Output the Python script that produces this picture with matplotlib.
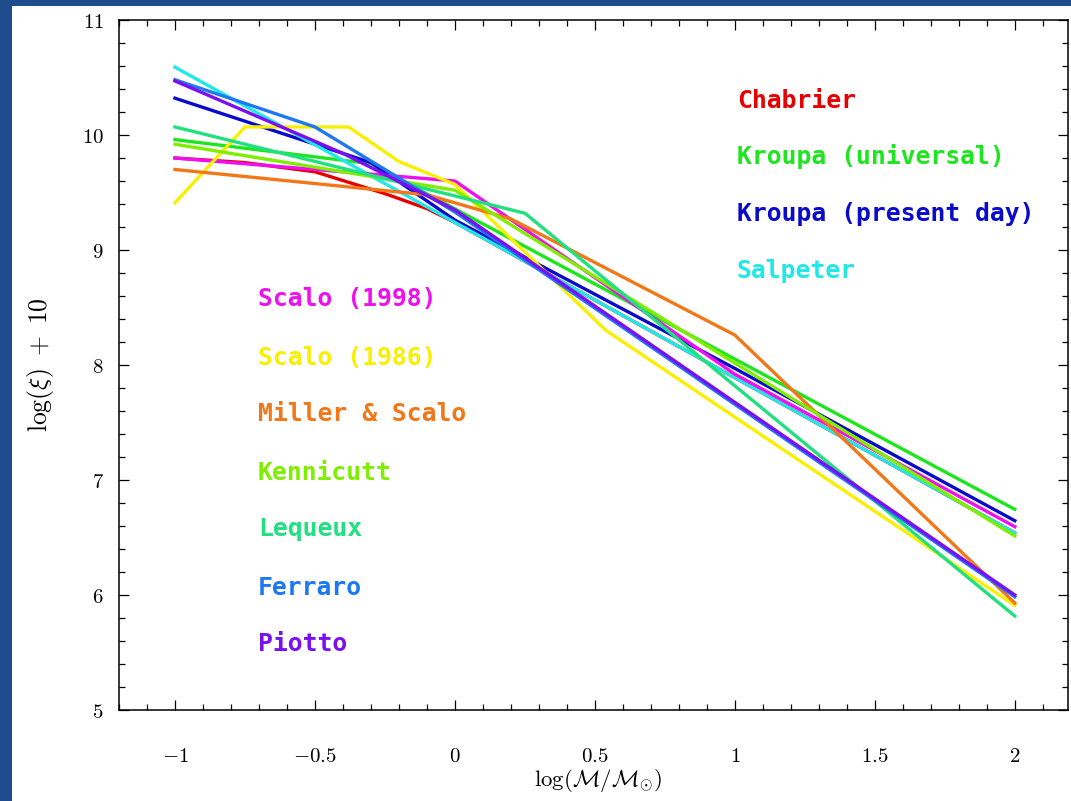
import numpy as np
import matplotlib
matplotlib.use("Agg")
import matplotlib.pyplot as plt
from matplotlib.patches import Rectangle
from matplotlib.ticker import MultipleLocator, FuncFormatter

plt.rcParams['mathtext.fontset'] = 'cm'

# === IMF CURVES: log(M/Msun) vs log(xi) + 10 ===
chabrier_x = [-1.0, -0.75, -0.5, -0.25, -0.1, 0.0, 2.0]
chabrier_y = [9.80, 9.76, 9.68, 9.49, 9.36, 9.24, 6.54]

kroupa_univ_x = [-1.0, -0.3, 2.0]
kroupa_univ_y = [9.96, 9.75, 6.745]

kroupa_pd_x = [-1.0, -0.3, 0.0, 1.0, 2.0]
kroupa_pd_y = [10.32, 9.76, 9.26, 7.97, 6.646]

salpeter_x = [-1.0, 2.0]
salpeter_y = [10.59, 6.54]

scalo98_x = [-1.0, 0.0, 1.0, 2.0]
scalo98_y = [9.80, 9.60, 7.92, 6.594]

scalo86_x = [-1.0, -0.75, -0.38, -0.2, 0.0, 0.54, 2.0]
scalo86_y = [9.41, 10.07, 10.07, 9.77, 9.57, 8.30, 5.91]

miller_x = [-1.0, -0.1, 0.2, 1.0, 2.0]
miller_y = [9.70, 9.48, 9.27, 8.26, 5.93]

kennicutt_x = [-1.0, 0.0, 2.0]
kennicutt_y = [9.92, 9.52, 6.513]

lequeux_x = [-1.0, 0.25, 2.0]
lequeux_y = [10.07, 9.32, 5.817]

ferraro_x = [-1.0, -0.5, 0.0, 2.0]
ferraro_y = [10.48, 10.07, 9.33, 5.985]

piotto_x = [-1.0, -0.4, 0.0, 2.0]
piotto_y = [10.47, 9.84, 9.35, 6.0]

names = ["Chabrier", "Kroupa (universal)", "Kroupa (present day)", "Salpeter",
         "Scalo (1998)", "Scalo (1986)", "Miller & Scalo", "Kennicutt",
         "Lequeux", "Ferraro", "Piotto"]
curves = [(chabrier_x, chabrier_y), (kroupa_univ_x, kroupa_univ_y),
          (kroupa_pd_x, kroupa_pd_y), (salpeter_x, salpeter_y),
          (scalo98_x, scalo98_y), (scalo86_x, scalo86_y),
          (miller_x, miller_y), (kennicutt_x, kennicutt_y),
          (lequeux_x, lequeux_y), (ferraro_x, ferraro_y),
          (piotto_x, piotto_y)]
colors = ["#e60000", "#1ee61e", "#0a0acc", "#20e8e8", "#ee10ee", "#f8f000",
          "#f07818", "#80ee00", "#20e080", "#1e78f0", "#7a10f0"]

# label anchors (data coords): right column, then left column
label_pos = [(1.007, 10.30), (1.007, 9.81), (1.007, 9.31), (1.007, 8.82),
             (-0.704, 8.57), (-0.704, 8.06), (-0.704, 7.57), (-0.704, 7.06),
             (-0.704, 6.57), (-0.704, 6.06), (-0.704, 5.57)]

# === PLOT ===
fig = plt.figure(figsize=(10.71, 8.01), dpi=100)
fig.patch.set_facecolor("#1e4c8c")
# white slide panel behind the axes
fig.patches.append(Rectangle((12 / 1071, 0), 1, 795 / 801, transform=fig.transFigure,
                             facecolor="white", edgecolor="none", zorder=-10))

ax = fig.add_axes([119 / 1071, 91 / 801, 949 / 1071, 690 / 801])
ax.set_facecolor("white")

for (xs, ys), c in zip(curves, colors):
    ax.plot(xs, ys, color=c, lw=2.4, solid_joinstyle="miter")

for name, (tx, ty), c in zip(names, label_pos, colors):
    ax.text(tx, ty, name, color=c, fontsize=17.8, fontweight="bold",
            family="DejaVu Sans Mono", ha="left", va="center")

ax.set_xlim(-1.2, 2.19)
ax.set_ylim(5, 11)
ax.xaxis.set_major_locator(MultipleLocator(0.5))
ax.xaxis.set_minor_locator(MultipleLocator(0.1))
ax.yaxis.set_major_locator(MultipleLocator(1))
ax.yaxis.set_minor_locator(MultipleLocator(0.2))
ax.xaxis.set_major_formatter(FuncFormatter(lambda v, p: f"${v:g}$"))
ax.yaxis.set_major_formatter(FuncFormatter(lambda v, p: f"${v:g}$"))
ax.tick_params(which="both", direction="in", top=True, right=True, width=0.9,
               labelsize=15, colors="black")
ax.tick_params(which="major", length=7.5)
ax.tick_params(which="minor", length=4.3)
ax.tick_params(axis="x", pad=26)
ax.tick_params(axis="y", pad=11)
for s in ax.spines.values():
    s.set_linewidth(1.1)

ax.set_xlabel(r"$\log(\mathcal{M}/\mathcal{M}_{\odot})$", fontsize=16.5)
ax.xaxis.set_label_coords(0.505, -0.083)
ax.set_ylabel(r"$\log(\xi)\ +\ 10$", fontsize=18.5)
ax.yaxis.set_label_coords(-0.066, 0.5)

fig.savefig("out.png", dpi=100)
